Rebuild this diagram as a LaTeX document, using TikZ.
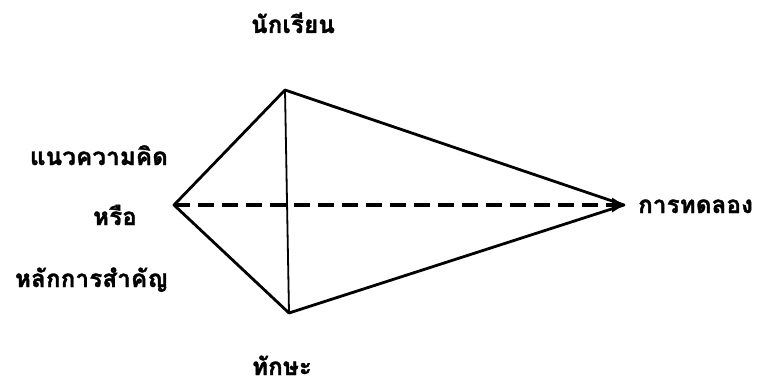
\documentclass[tikz,border=0pt]{standalone}
\usepackage{fontspec}
\newfontfamily\thaifont[Script=Thai,LetterSpace=1,FakeBold=1.5]{Loma}
\usetikzlibrary{arrows.meta}
\begin{document}
\begin{tikzpicture}[x=1pt,y=-1pt,
  lbl/.style={inner sep=0pt,font=\thaifont\bfseries\fontsize{24}{28}\selectfont},
  edge/.style={line width=2.8pt,line cap=round,line join=round},
  vline/.style={line width=1.8pt},
  dline/.style={line width=3.2pt,dash pattern=on 16pt off 8pt,-{Triangle[length=12pt,width=14pt]}}]
\useasboundingbox (0,0) rectangle (767,385);
\coordinate (L) at (174,205);
\coordinate (T) at (285,90);
\coordinate (B) at (289,313);
\coordinate (R) at (624,205);
\draw[dline] (L) -- (R);
\draw[vline] (T) -- (B);
\draw[edge] (L) -- (T) -- (R) -- (B) -- cycle;
\node[lbl,anchor=base] (stu) at (293,33) {นักเรียน};
\node[lbl,anchor=base,text depth=0pt] (ski) at (282,375) {ทักษะ};
\node[lbl,anchor=base east] (con) at (168,165) {แนวความคิด};
\node[lbl,anchor=base] (orr) at (115,225) {หรือ};
\node[lbl,anchor=base east] (pri) at (168,287) {หลักการสำคัญ};
\node[lbl,anchor=base west] (exp) at (638,213) {การทดลอง};
\end{tikzpicture}
\end{document}
